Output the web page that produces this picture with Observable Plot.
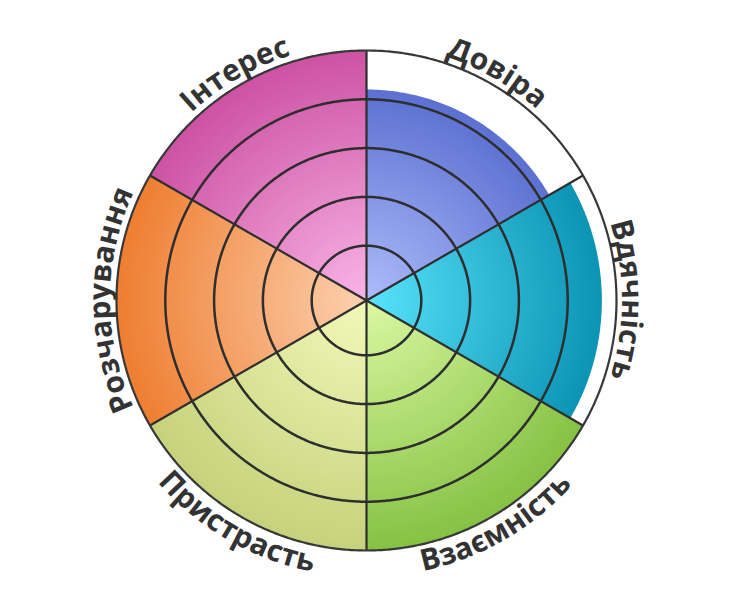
<!DOCTYPE html>
<html>
<head>
<meta charset="utf-8">
<script src="https://cdn.jsdelivr.net/npm/d3@7"></script>
<script src="https://cdn.jsdelivr.net/npm/@observablehq/plot@0.6"></script>
<style>
  html, body { margin: 0; padding: 0; background: #fff; }
  #chart svg { display: block; }
</style>
</head>
<body>
<div id="chart"></div>
<script>
// ---- data ----
const categories = ["Довіра", "Вдячність", "Взаємність", "Пристрасть", "Розчарування", "Інтерес"];
const values = [8.4, 9.4, 10, 10, 10, 10];
const innerColors = ["#aebcfa", "#58e3fb", "#dbf8a3", "#f2f9ba", "#fdd1b0", "#f9b4e7"];
const outerColors = ["#5b70d1", "#0b94b4", "#85c243", "#c6d27b", "#ee7e31", "#cd52a3"];
const ringValues = [2, 4, 6, 8];
const maxValue = 10;

// ---- geometry helpers ----
const W = 732, H = 600;
const pxPerUnit = 24.4;
const offset = 0.246;                 // small inner offset of the radial scale
const radial = v => offset + v;       // value -> radius in plot units
const n = categories.length;
const step = 360 / n;
const toRad = d => d * Math.PI / 180;
const pt = (r, deg) => ({x: r * Math.sin(toRad(deg)), y: r * Math.cos(toRad(deg))});

function sectorPoints(i) {
  const r = radial(values[i]);
  const a0 = i * step, a1 = (i + 1) * step;
  const pts = [{x: 0, y: 0}];
  for (let a = a0; a <= a1 + 1e-9; a += 0.5) pts.push(pt(r, a));
  pts.push({x: 0, y: 0});
  return pts;
}
function circlePoints(v) {
  const r = radial(v);
  const pts = [];
  for (let a = 0; a <= 360; a += 0.5) pts.push({v, ...pt(r, a)});
  return pts;
}

const ringPts = ringValues.flatMap(circlePoints);
const outerPts = circlePoints(maxValue);
const dividers = categories.map((c, i) => ({x1: 0, y1: 0, ...(() => { const p = pt(radial(maxValue), i * step); return {x2: p.x, y2: p.y}; })()}));

const outR = 256 / pxPerUnit, flipR = 277 / pxPerUnit;
const labelData = categories.map((name, i) => {
  const mid = (i + 0.5) * step;
  const flip = Math.cos(toRad(mid)) < -0.1;
  return {name, flip, ...pt(flip ? flipR : outR, mid)};
});

// ---- gradient defs as a render-function mark ----
function gradientDefs(index, scales) {
  const cx = scales.x(0), cy = scales.y(0);
  const defs = d3.create("svg:defs");
  categories.forEach((c, i) => {
    const r = scales.x(radial(values[i])) - cx;
    const g = defs.append("radialGradient")
      .attr("id", "sec-grad-" + i)
      .attr("gradientUnits", "userSpaceOnUse")
      .attr("cx", cx).attr("cy", cy).attr("r", r);
    g.append("stop").attr("offset", "0%").attr("stop-color", innerColors[i]);
    g.append("stop").attr("offset", "100%").attr("stop-color", outerColors[i]);
  });
  return defs.node();
}

// ---- curved labels ----
function arcLabels(index, scales, vals) {
  const cx = scales.x(0), cy = scales.y(0);
  const g = d3.create("svg:g")
    .attr("font-family", "'Open Sans', sans-serif")
    .attr("font-weight", 700)
    .attr("font-size", 30)
    .attr("fill", "#333333");
  const defs = g.append("defs");
  const span = toRad(80);
  for (const i of index) {
    const px = vals.x[i], py = vals.y[i];
    const R = Math.hypot(px - cx, py - cy);
    const a = Math.atan2(px - cx, -(py - cy));
    const flip = labelData[i].flip;
    const a0 = flip ? a + span : a - span, a1 = flip ? a - span : a + span;
    const p = t => [cx + R * Math.sin(t), cy - R * Math.cos(t)];
    const [x0, y0] = p(a0), [x1, y1] = p(a1);
    const id = "arc-label-" + i;
    defs.append("path").attr("id", id).attr("fill", "none")
      .attr("d", `M${x0},${y0}A${R},${R} 0 0 ${flip ? 0 : 1} ${x1},${y1}`);
    g.append("text").append("textPath")
      .attr("href", "#" + id)
      .attr("startOffset", "50%")
      .attr("text-anchor", "middle")
      .text(labelData[i].name);
  }
  return g.node();
}

const halfW = W / 2 / pxPerUnit, halfH = H / 2 / pxPerUnit;

const plot = Plot.plot({
  width: W,
  height: H,
  margin: 0,
  x: {domain: [-halfW, halfW], axis: null},
  y: {domain: [-halfH, halfH], axis: null},
  marks: [
    gradientDefs,
    ...categories.map((c, i) =>
      Plot.line(sectorPoints(i), {x: "x", y: "y", fill: `url(#sec-grad-${i})`, stroke: "none", curve: "linear"})
    ),
    Plot.line(ringPts, {x: "x", y: "y", z: "v", stroke: "#2e2e2e", strokeWidth: 2.5}),
    Plot.link(dividers, {x1: "x1", y1: "y1", x2: "x2", y2: "y2", stroke: "#2e2e2e", strokeWidth: 2.2}),
    Plot.line(outerPts, {x: "x", y: "y", stroke: "#383838", strokeWidth: 2.2}),
    Plot.text(labelData, {x: "x", y: "y", text: "name", render: arcLabels})
  ]
});
document.getElementById("chart").appendChild(plot);
</script>
</body>
</html>
